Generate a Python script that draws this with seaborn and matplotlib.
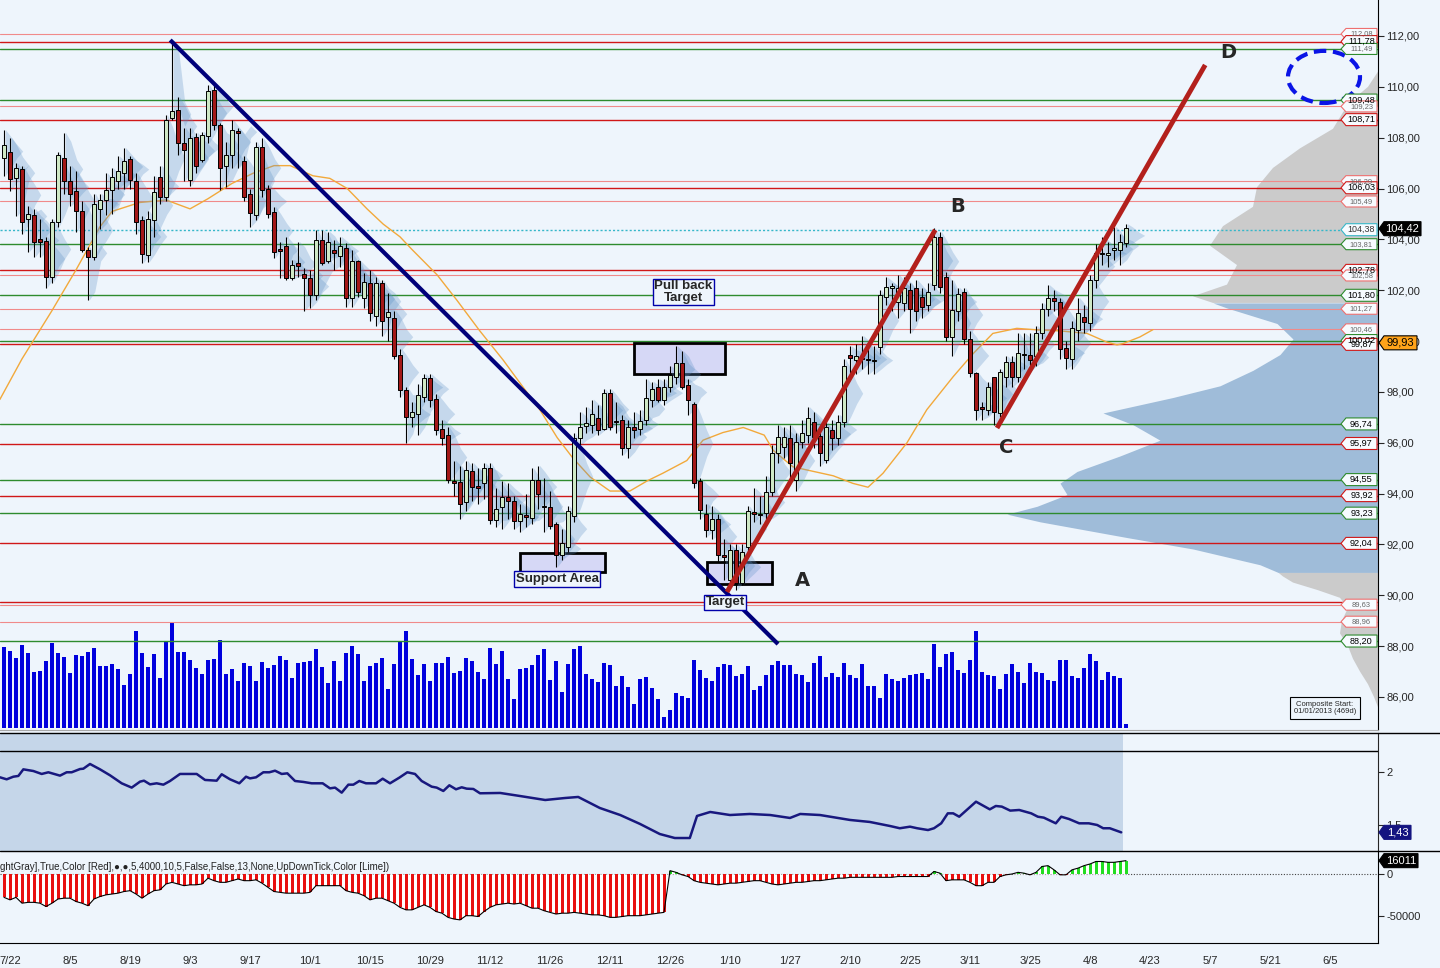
import numpy as np
import matplotlib
matplotlib.use("Agg")
import matplotlib.pyplot as plt
from matplotlib.patches import Rectangle, Ellipse, Polygon
from matplotlib.collections import PolyCollection
from matplotlib.lines import Line2D
from matplotlib.transforms import blended_transform_factory
import seaborn as sns

sns.set_style("white")
plt.rcParams["font.family"] = ["Liberation Sans", "DejaVu Sans"]

# ---- daily candles (bar index 0..187) ----
opens = [107.2, 107.45, 106.4, 106.76, 104.8, 104.96, 104.0, 103.95, 102.5, 104.7,
         107.2, 106.3, 105.9, 105.1, 103.6, 103.3, 105.2, 105.55, 105.95, 106.3,
         106.6, 107.15, 106.3, 104.76, 103.4, 104.77, 106.47, 105.68, 108.77, 109.1,
         107.78, 106.34, 108.04, 107.13, 108.07, 109.88, 108.5, 106.89, 107.33, 108.25,
         107.08, 105.8, 104.96, 107.65, 105.97, 105.09, 103.64, 103.72, 102.47, 103.06,
         102.64, 102.47, 101.81, 103.98, 103.13, 103.6, 103.35, 103.65, 101.68, 103.13,
         101.68, 102.3, 101.0, 102.3, 100.96, 100.9, 99.45, 98.07, 97.0, 97.15,
         97.81, 98.53, 97.74, 96.56, 96.3, 94.5, 94.47, 93.68, 94.9, 94.3,
         94.4, 95.0, 92.96, 93.46, 93.85, 93.72, 92.93, 93.15, 93.02, 94.53,
         93.5, 93.48, 92.8, 91.6, 91.9, 93.1, 96.2, 96.66, 96.7, 96.96,
         96.56, 97.97, 96.85, 96.9, 95.8, 96.6, 96.56, 96.9, 97.7, 98.2,
         97.7, 98.2, 98.6, 99.15, 98.27, 97.52, 94.5, 93.2, 92.56, 93.0,
         91.6, 90.6, 91.8, 90.5, 91.9, 93.29, 93.2, 93.22, 94.07, 95.58,
         95.85, 96.17, 94.53, 96.04, 96.3, 96.83, 96.26, 95.32, 96.5, 96.17,
         96.83, 99.45, 99.25, 99.35, 99.3, 99.2, 99.78, 101.74, 102.1, 101.55,
         101.48, 102.0, 102.07, 101.74, 101.41, 102.2, 104.1, 102.5, 100.17, 101.2,
         101.94, 100.1, 98.73, 97.4, 97.29, 98.6, 97.16, 98.6, 99.19, 98.6,
         99.5, 99.45, 99.4, 100.3, 101.28, 101.7, 101.55, 99.72, 99.3, 100.43,
         100.96, 100.7, 102.4, 103.45, 103.4, 103.58, 103.6, 103.84]
closes = [107.7, 106.36, 106.8, 104.7, 105.0, 103.9, 103.9, 102.5, 104.7, 107.3,
          106.3, 105.8, 105.1, 103.6, 103.3, 105.4, 105.55, 105.95, 106.47, 106.67,
          107.1, 106.33, 104.7, 103.43, 104.8, 105.88, 105.68, 108.7, 109.05, 107.78,
          107.5, 107.98, 106.9, 108.1, 109.85, 108.5, 106.8, 107.3, 108.3, 108.18,
          105.68, 105.05, 107.65, 105.94, 105.0, 103.52, 103.53, 102.47, 103.0, 102.97,
          102.47, 101.81, 103.98, 103.06, 103.91, 103.48, 103.72, 101.68, 103.13, 101.94,
          102.34, 101.1, 102.3, 100.8, 101.15, 99.4, 98.07, 97.02, 97.2, 97.88,
          98.53, 97.68, 96.5, 96.17, 94.53, 94.4, 93.6, 94.93, 94.24, 94.2,
          95.0, 92.96, 93.38, 93.88, 93.72, 92.93, 93.19, 93.09, 94.53, 93.98,
          93.46, 92.72, 91.6, 92.04, 93.3, 96.2, 96.63, 96.76, 97.13, 96.5,
          97.97, 96.63, 96.8, 95.78, 96.63, 96.5, 96.87, 97.75, 98.1, 97.7,
          98.2, 98.66, 99.15, 98.2, 97.68, 94.4, 93.35, 92.56, 93.0, 91.6,
          91.5, 91.8, 90.5, 91.7, 93.3, 93.2, 93.15, 94.07, 95.6, 96.24,
          96.24, 95.19, 96.04, 96.37, 96.96, 96.24, 95.58, 96.63, 96.17, 96.83,
          99.02, 99.32, 99.4, 99.3, 99.25, 99.26, 101.81, 102.14, 102.14, 102.07,
          102.07, 101.28, 101.2, 101.35, 101.94, 104.1, 102.14, 100.17, 101.22, 101.87,
          100.1, 98.73, 97.29, 97.32, 98.2, 97.2, 98.8, 99.19, 98.6, 99.54,
          99.45, 99.25, 100.3, 101.28, 101.68, 101.59, 99.7, 99.32, 100.5, 101.09,
          100.76, 102.4, 103.45, 103.42, 103.43, 103.65, 103.88, 104.43]
highs = [108.3, 108.0, 107.0, 106.9, 105.3, 105.2, 104.8, 104.1, 104.8, 107.45,
         108.2, 106.9, 106.7, 105.5, 103.7, 105.8, 105.8, 106.6, 106.8, 107.26,
         107.6, 107.26, 106.6, 104.9, 105.1, 106.5, 106.9, 108.9, 111.85, 109.6,
         108.4, 108.4, 108.2, 108.24, 110.07, 110.07, 108.57, 107.84, 108.7, 108.37,
         107.26, 106.0, 107.84, 107.98, 106.14, 105.29, 103.9, 104.1, 103.2, 103.9,
         102.86, 102.8, 104.37, 104.37, 104.3, 103.98, 104.1, 103.85, 103.6, 103.2,
         102.67, 102.8, 102.5, 102.4, 101.9, 101.2, 99.7, 98.2, 97.6, 98.3,
         98.7, 98.7, 97.9, 96.9, 96.6, 95.3, 95.1, 95.3, 95.2, 95.0,
         95.2, 95.2, 94.2, 94.5, 94.4, 93.9, 93.6, 94.0, 95.0, 95.1,
         94.6, 94.1, 92.9, 92.6, 93.5, 96.4, 97.2, 97.4, 97.7, 97.5,
         98.1, 98.1, 97.6, 97.1, 96.9, 97.2, 97.3, 98.5, 98.4, 98.5,
         98.5, 99.0, 99.8, 99.6, 98.5, 97.6, 94.6, 93.6, 93.5, 93.2,
         92.2, 92.0, 92.0, 92.0, 93.5, 94.2, 93.9, 94.7, 95.9, 96.7,
         96.6, 96.7, 96.4, 96.9, 97.4, 97.2, 96.6, 96.8, 96.9, 97.1,
         99.3, 99.8, 99.9, 100.2, 99.9, 99.8, 102.0, 102.5, 102.3, 102.6,
         102.5, 102.3, 102.4, 102.1, 102.3, 104.43, 104.3, 102.7, 102.4, 102.1,
         102.1, 100.4, 98.8, 97.6, 98.4, 98.6, 98.9, 99.4, 99.4, 100.3,
         100.3, 100.3, 100.6, 101.5, 102.2, 102.0, 101.7, 100.0, 100.8, 101.7,
         101.4, 102.6, 103.8, 104.1, 103.9, 104.5, 104.2, 104.6]
lows = [106.5, 105.9, 104.9, 104.2, 103.5, 103.3, 103.3, 102.1, 102.3, 104.5,
        105.8, 105.3, 104.3, 103.5, 101.6, 103.2, 104.4, 104.96, 105.0, 106.0,
        106.0, 106.0, 104.2, 103.06, 103.1, 104.1, 105.4, 105.5, 108.7, 107.3,
        106.3, 106.1, 106.6, 107.06, 107.78, 108.3, 105.94, 106.07, 106.8, 106.8,
        105.49, 104.5, 104.76, 105.68, 104.83, 103.26, 102.47, 102.4, 102.4, 102.5,
        101.2, 101.3, 101.6, 102.99, 103.06, 102.8, 102.93, 101.35, 101.35, 101.75,
        101.3, 100.8, 100.6, 100.2, 100.0, 99.3, 97.8, 96.0, 96.6, 96.3,
        97.6, 97.4, 96.3, 95.9, 94.4, 93.9, 93.0, 93.3, 93.7, 93.6,
        93.8, 92.8, 92.7, 92.6, 93.0, 92.6, 92.5, 92.7, 92.8, 93.4,
        92.5, 92.6, 91.1, 91.4, 91.7, 92.9, 95.9, 96.4, 96.4, 96.3,
        96.5, 96.5, 96.4, 95.5, 95.4, 96.2, 96.3, 96.7, 97.4, 97.6,
        97.5, 98.0, 98.3, 98.1, 97.1, 94.2, 93.0, 92.3, 92.2, 91.3,
        90.6, 90.3, 90.2, 90.4, 91.6, 92.9, 92.8, 93.0, 93.9, 95.2,
        95.4, 94.6, 94.1, 95.8, 96.0, 95.8, 95.1, 95.2, 95.7, 95.9,
        96.6, 98.7, 98.7, 98.9, 98.7, 98.7, 99.5, 101.4, 101.2, 100.9,
        101.2, 100.3, 100.8, 100.9, 101.2, 102.0, 101.9, 100.0, 99.4, 100.8,
        99.9, 98.6, 96.9, 96.9, 97.1, 96.7, 97.0, 98.2, 98.2, 98.4,
        98.9, 98.8, 99.0, 100.1, 101.0, 101.2, 99.3, 98.9, 98.9, 100.0,
        100.3, 100.4, 102.1, 103.0, 102.9, 103.2, 103.0, 103.7]
volume = [81, 77, 70, 83, 75, 56, 57, 67, 85, 75,
          71, 55, 73, 72, 76, 80, 62, 62, 64, 59,
          43, 54, 97, 75, 61, 74, 50, 86, 106, 76,
          76, 68, 60, 54, 68, 69, 88, 54, 59, 47,
          65, 62, 47, 66, 60, 63, 72, 68, 50, 65,
          66, 67, 79, 61, 45, 67, 47, 75, 82, 74,
          47, 62, 65, 70, 39, 64, 86, 97, 69, 53,
          64, 47, 65, 65, 71, 55, 57, 70, 67, 56,
          49, 80, 64, 77, 49, 29, 59, 60, 63, 73,
          79, 48, 67, 36, 64, 79, 82, 54, 49, 46,
          65, 63, 42, 52, 41, 24, 49, 51, 40, 29,
          11, 18, 35, 32, 30, 68, 58, 50, 47, 61,
          64, 63, 52, 54, 62, 38, 42, 53, 63, 67,
          63, 63, 54, 53, 46, 65, 72, 51, 55, 51,
          65, 53, 50, 64, 42, 42, 30, 54, 49, 47,
          50, 53, 54, 55, 49, 84, 61, 74, 76, 58,
          55, 68, 97, 56, 53, 52, 39, 54, 64, 56,
          45, 65, 56, 55, 48, 47, 68, 68, 52, 50,
          60, 74, 67, 48, 56, 52, 50, 4]

# moving average (orange) read as points
ma_k = [-0.7, 3, 8, 12, 16, 18, 22.6, 27, 31, 34, 38, 41.5, 45, 47.7, 51.5, 54.3, 57.2,
        60.5, 63.2, 66, 68, 72.2, 75.5, 79.3, 83.2, 86, 89.3, 92.2, 94.8, 97.7, 101,
        104.3, 107.2, 109.8, 113.8, 116.5, 119.8, 123.2, 126.7, 128.2, 131.5, 138.2,
        141.5, 144, 146.5, 150.5, 153.8, 158.2, 161.5, 164.8, 168.8, 172.7, 176,
        180.5, 183.8, 185.5, 186.5, 189.3, 191.5]
ma_val = [97.7, 99.3, 101.2, 102.8, 104.5, 105.1, 105.45, 105.55, 105.2, 105.6, 106.2,
          106.6, 106.9, 106.9, 106.5, 106.4, 106.0, 105.2, 104.6, 104.1, 103.6, 102.6,
          101.6, 100.4, 99.25, 98.35, 97.3, 96.2, 95.4, 94.65, 94.1, 94.1, 94.5, 94.8,
          95.3, 96.1, 96.4, 96.6, 96.3, 95.7, 95.05, 94.7, 94.4, 94.25, 94.8, 96.0,
          97.3, 98.6, 99.5, 100.3, 100.5, 100.43, 100.4, 100.3, 99.96, 99.85, 99.9,
          100.16, 100.45]

# support / resistance levels on the right
level_price = [112.08, 111.78, 111.49, 109.48, 109.23, 108.71, 106.29, 106.03, 105.49,
               103.81, 102.78, 102.58, 101.80, 101.27, 100.46, 100.02, 99.87, 96.74,
               95.97, 94.55, 93.92, 93.23, 92.04, 89.73, 89.63, 88.96, 88.20]
level_kind = ["rl", "r", "g", "g", "rl", "r", "rl", "r", "rl",
              "g", "r", "rl", "g", "rl", "rl", "g", "r", "g",
              "r", "g", "r", "g", "r", "r", "rl", "rl", "g"]
level_bold = [0, 1, 0, 1, 0, 1, 0, 1, 0,
              0, 1, 0, 1, 0, 0, 1, 1, 1,
              1, 1, 1, 1, 1, 1, 0, 0, 1]
level_tagged = [1, 1, 1, 1, 1, 1, 1, 1, 1,
                1, 1, 1, 1, 1, 1, 1, 1, 1,
                1, 1, 1, 1, 1, 0, 1, 1, 1]
last_price = 104.42
poc_price = 99.93
cur_level = 104.38

# composite volume profile
prof_price = [110.6, 110.0, 109.5, 109.0, 108.35, 107.58, 106.81, 106.05, 105.28, 104.52,
              103.75, 102.99, 102.22, 101.76, 101.5, 101.3, 100.69, 100.08, 99.47, 98.85,
              98.24, 97.78, 97.17, 96.71, 96.1, 95.48, 94.87, 94.41, 93.96, 93.5,
              93.19, 92.89, 92.27, 91.82, 91.2, 90.9, 90.74, 90.5, 90.2, 89.9,
              89.5, 89.0, 88.5, 88.0, 87.5, 87.0, 86.5, 86.0, 85.6]
prof_width = [0, 10, 25, 35, 45, 78, 105, 121, 125, 155,
              168, 141, 151, 185, 165, 151, 101, 85, 98, 125,
              158, 205, 275, 245, 218, 258, 301, 318, 311, 341,
              371, 338, 251, 185, 118, 100, 95, 85, 60, 38,
              30, 36, 38, 30, 25, 18, 10, 4, 0]
value_area = (90.9, 101.5)

# middle indicator
ind_k = [-0.67, 0.44, 1.56, 2.39, 3.22, 4.89, 6.28, 7.39, 9.33, 10.44, 11.28, 12.67, 13.22,
         14.33, 16.0, 17.67, 19.61, 21.28, 22.67, 23.33, 24.33, 25.44, 26.56, 27.67, 29.33,
         32.11, 33.5, 35.44, 36.28, 37.67, 39.22, 40.33, 41.0, 42.0, 43.22, 44.22, 45.17,
         46.28, 47.22, 48.5, 49.89, 51.28, 53.11, 54.33, 55.17, 56.28, 57.39, 58.22, 59.22,
         60.33, 62.0, 63.11, 64.33, 65.89, 67.22, 68.5, 69.61, 71.28, 72.11, 73.22, 74.22,
         75.33, 76.28, 77.11, 78.22, 79.33, 82.7, 86, 90.2, 93.5, 95.7, 99.3, 102.7, 106,
         109.3, 111.8, 114.3, 115.5, 117.7, 121, 124.3, 127.7, 131, 132.7, 136, 141,
         144.3, 147.7, 149.3, 151, 152.2, 154, 155, 156.2, 157.3, 158.2, 159.2, 162,
         164.3, 165.3, 166.3, 167.7, 169.2, 171.2, 172.3, 173.3, 175.3, 176.2, 177.5,
         179.2, 180.8, 182.2, 183.2, 184.3, 186.2]
ind_val = [1.954, 1.935, 1.960, 1.967, 2.030, 2.014, 1.986, 2.002, 1.970, 2.002, 2.002,
           2.033, 2.036, 2.081, 2.030, 1.973, 1.897, 1.856, 1.913, 1.922, 1.887, 1.897,
           1.884, 1.919, 1.986, 1.986, 1.929, 1.922, 1.983, 1.935, 1.897, 1.960, 1.944,
           1.954, 2.002, 2.002, 2.017, 1.986, 1.992, 1.919, 1.910, 1.897, 1.897, 1.849,
           1.856, 1.808, 1.884, 1.884, 1.919, 1.897, 1.897, 1.941, 1.897, 1.951, 2.002,
           1.986, 1.919, 1.865, 1.856, 1.824, 1.878, 1.840, 1.859, 1.846, 1.843, 1.802,
           1.805, 1.776, 1.738, 1.757, 1.767, 1.662, 1.595, 1.51, 1.414, 1.376, 1.376,
           1.586, 1.624, 1.595, 1.605, 1.595, 1.567, 1.605, 1.595, 1.548, 1.529, 1.49,
           1.469, 1.484, 1.469, 1.452, 1.469, 1.516, 1.611, 1.611, 1.579, 1.722, 1.649,
           1.681, 1.675, 1.637, 1.643, 1.611, 1.579, 1.57, 1.516, 1.579, 1.557, 1.516,
           1.516, 1.5, 1.469, 1.469, 1.43]
ind_last = 1.43

# lower oscillator (thousands)
flow = [-28, -31, -28, -35, -34, -34, -35, -39, -35, -30,
        -29, -29, -33, -35, -38, -30, -27, -25, -24, -23,
        -21, -20, -24, -29, -24, -20, -19, -12, -10, -12,
        -14, -13, -13, -12, -5, -8, -10, -10, -8, -6,
        -8, -8, -7, -11, -16, -21, -22, -23, -23, -23,
        -23, -22, -14, -14, -14, -14, -14, -20, -22, -23,
        -26, -31, -29, -29, -32, -35, -40, -43, -43, -40,
        -37, -40, -45, -47, -52, -54, -55, -50, -50, -51,
        -45, -40, -37, -36, -35, -36, -35, -38, -41, -41,
        -44, -46, -48, -47, -47, -46, -47, -48, -49, -49,
        -50, -52, -52, -51, -50, -50, -50, -49, -48, -47,
        -46, 4, 2, -1, -3, -8, -10, -11, -12, -13,
        -12, -11, -11, -10, -9, -8, -8, -10, -12, -13,
        -12, -11, -10, -10, -9, -8, -8, -7, -6, -5,
        -5, -4, -4, -4, -4, -4, -4, -4, -4, -3,
        -3, -3, -3, -3, -3, 3, 1, -8, -7, -7,
        -7, -10, -14, -14, -10, -10, -3, -1, 0, 2,
        1, -1, 2, 9, 10, 5, -1, -1, 5, 7,
        10, 12, 15, 15, 14, 14, 15, 16]
flow_last = 16011

date_k = [1, 11, 21, 31, 41, 51, 61, 71, 81, 91, 101, 111, 121, 131, 141, 151, 161,
          171, 181, 191, 201, 211, 221]
date_labels = ["7/22", "8/5", "8/19", "9/3", "9/17", "10/1", "10/15", "10/29", "11/12",
               "11/26", "12/11", "12/26", "1/10", "1/27", "2/10", "2/25", "3/11", "3/25",
               "4/8", "4/23", "5/7", "5/21", "6/5"]

# drawn annotations (bar index, price)
down_trend = ([27.7, 129.0], [111.84, 88.08])
ab_line = ([120.5, 155.2], [90.13, 104.37])
cd_line = ([165.5, 200.2], [96.58, 110.86])
wave_labels = [("A", 133, 90.6), ("B", 159, 105.3), ("C", 167, 95.8), ("D", 204, 111.37)]
boxes = [(86.0, 100.2, 90.91, 91.66), (105.0, 120.2, 98.71, 99.93), (117.2, 128.0, 90.44, 91.31)]
box_texts = [("Support Area", 92.2, 90.64), ("Pull back\nTarget", 113.2, 101.93), ("Target", 120.2, 89.73)]
target_ellipse = (220.0, 110.39, 12.0, 2.05)

# ---------------------------------------------------------------
W, H = 1440, 968
BG = "#eef5fc"
AXW = 1378
XL = (-0.67, 229)

fig = plt.figure(figsize=(W / 100, H / 100), dpi=100, facecolor=BG)


def rect(x0, y0, x1, y1):
    return [x0 / W, 1 - y1 / H, (x1 - x0) / W, (y1 - y0) / H]


def tag(ax, y, txt, x0, x1, fc, ec, tc, fs, hpx=12, lw=0.8, z=9, weight="normal"):
    y0, y1 = ax.get_ylim()
    dy = (y1 - y0) / ax.bbox.height * hpx / 2
    tr = blended_transform_factory(ax.transAxes, ax.transData)
    pts = [(x0 / AXW, y), ((x0 + 5) / AXW, y + dy), (x1 / AXW, y + dy),
           (x1 / AXW, y - dy), ((x0 + 5) / AXW, y - dy)]
    ax.add_patch(Polygon(pts, closed=True, transform=tr, fc=fc, ec=ec, lw=lw,
                         clip_on=False, zorder=z))
    ax.text((x0 + 5 + x1) / 2 / AXW, y, txt, transform=tr, ha="center", va="center",
            fontsize=fs, color=tc, clip_on=False, zorder=z + 0.1, fontweight=weight)


PY = (84.70, 113.416)

# composite profile
ax_prof = fig.add_axes(rect(0, 0, AXW, 730))
ax_prof.set_xlim(AXW, 0)
ax_prof.set_ylim(PY)
ax_prof.axis("off")
pp = np.array(prof_price)
pw = np.array(prof_width)
in_va = (pp >= value_area[0]) & (pp <= value_area[1])
out_va = (pp <= value_area[0]) | (pp >= value_area[1])
ax_prof.fill_betweenx(pp, 0, pw, where=out_va, color="#cbcbcb", lw=0)
ax_prof.fill_betweenx(pp, 0, pw, where=in_va, color="#9fbcd9", lw=0)

# volume
ax_v = fig.add_axes(rect(0, 0, AXW, 730))
ax_v.set_xlim(XL)
ax_v.set_ylim(-2, 728)
ax_v.axis("off")
kk = np.arange(len(volume))
ax_v.bar(kk, volume, width=0.67, color="#0000dd", lw=0)

# price
ax_p = fig.add_axes(rect(0, 0, AXW, 730))
ax_p.set_facecolor("none")
ax_p.set_xlim(XL)
ax_p.set_ylim(PY)
for s in ["left", "top"]:
    ax_p.spines[s].set_visible(False)
ax_p.spines["bottom"].set_color("#a8a8a8")
ax_p.spines["right"].set_color("black")
ax_p.set_xticks([])
ax_p.yaxis.tick_right()
yt = list(range(86, 113, 2))
ax_p.set_yticks(yt)
ax_p.set_yticklabels([f"{v:.2f}".replace(".", ",") for v in yt], fontsize=8)
ax_p.tick_params(axis="y", length=4, pad=2, width=0.8)

line_col = {"r": "#d01818", "rl": "#f08a8a", "g": "#2e8b2e"}
for p, kind in zip(level_price, level_kind):
    ax_p.axhline(p, color=line_col[kind], lw=1.0 if kind != "rl" else 0.8, zorder=1)
for p, kind, b, t in zip(level_price, level_kind, level_bold, level_tagged):
    if not t:
        continue
    ec = {"r": "#d01818", "rl": "#ee7070", "g": "#2e8b2e"}[kind]
    tag(ax_p, p, f"{p:.2f}".replace(".", ","), 1341, 1377, "#f7fbff", ec,
        "black" if b else "#666666", 6.6 if b else 5.4, hpx=12 if b else 11)
ax_p.axhline(cur_level, color="#36b7c9", lw=1, ls=(0, (1.5, 1.5)), zorder=1)
tag(ax_p, cur_level, f"{cur_level:.2f}".replace(".", ","), 1341, 1377, "#f7fbff",
    "#36b7c9", "#333333", 6.4)

# moving average
sns.lineplot(x=ma_k, y=ma_val, ax=ax_p, color="#f2a93b", lw=1.0, estimator=None,
             sort=False, zorder=3)

o = np.array(opens)
c = np.array(closes)
hi = np.array(highs)
lo = np.array(lows)
kc = np.arange(len(o))

# per-bar volume profiles
verts = []
for i in range(len(kc)):
    mid = (o[i] + c[i]) / 2
    rng = hi[i] - lo[i]
    verts.append([(kc[i] + 0.3, lo[i]), (kc[i] + 1.2, lo[i] + 0.15 * rng),
                  (kc[i] + 2.2, mid - 0.15 * rng), (kc[i] + 3.2, mid),
                  (kc[i] + 2.2, mid + 0.15 * rng), (kc[i] + 1.2, hi[i] - 0.15 * rng),
                  (kc[i] + 0.3, hi[i])])
ax_p.add_collection(PolyCollection(verts, facecolors="#5b8fc4", alpha=0.28,
                                   edgecolors="none", zorder=3))

# zones
for k0, k1, p0, p1 in boxes:
    ax_p.add_patch(Rectangle((k0, p0), k1 - k0, p1 - p0, fc=(0.82, 0.82, 0.96, 0.8),
                             ec="black", lw=2, zorder=2))

ax_p.vlines(kc, lo, hi, color="black", lw=0.8, zorder=4)
up = c >= o
ax_p.bar(kc, np.maximum(np.abs(c - o), 0.05), bottom=np.minimum(o, c), width=0.6,
         color=np.where(up, "#cfe8c6", "#a31818"), edgecolor="black", lw=0.7, zorder=5)

ax_p.plot(*down_trend, color="#00007a", lw=3, solid_capstyle="butt", zorder=7)
ax_p.plot(*ab_line, color="#b3201c", lw=3.5, solid_capstyle="butt", zorder=7)
ax_p.plot(*cd_line, color="#b3201c", lw=3.5, solid_capstyle="butt", zorder=7)
ex, ey, ew, eh = target_ellipse
ax_p.add_patch(Ellipse((ex, ey), ew, eh, fill=False, ec="#0a14e6", lw=3,
                       ls=(0, (3, 1.6)), zorder=7))
for t, kx, py in wave_labels:
    ax_p.text(kx, py, t, fontsize=14, fontweight="heavy", family="DejaVu Sans",
              ha="center", va="center", zorder=8)
for t, kx, py in box_texts:
    ax_p.text(kx, py, t, fontsize=9.5, fontweight="bold", ha="center", va="center",
              linespacing=0.95, zorder=8,
              bbox=dict(boxstyle="square,pad=0.12", fc=BG, ec="#0000aa", lw=1))

tr_p = blended_transform_factory(ax_p.transAxes, ax_p.transData)
ax_p.text(1325 / AXW, 85.56, "Composite Start:\n01/01/2013 (469d)", transform=tr_p,
          fontsize=5.5, ha="center", va="center", linespacing=1.1, zorder=8,
          bbox=dict(boxstyle="square,pad=0.5", fc=BG, ec="black", lw=0.8))

tag(ax_p, last_price, f"{last_price:.2f}".replace(".", ","), 1379, 1421, "black",
    "black", "white", 8, hpx=14)
tag(ax_p, poc_price, f"{poc_price:.2f}".replace(".", ","), 1379, 1417, "#ffa31a",
    "black", "black", 8, hpx=14)

# middle indicator panel
ax_m = fig.add_axes(rect(0, 733, AXW, 851))
ax_m.set_facecolor("none")
ax_m.set_xlim(XL)
ax_m.set_ylim(1.2524, 2.376)
ax_m.axvspan(XL[0], 186.5, color="#c5d6e9", lw=0, zorder=0)
ax_m.axhline(2.205, color="black", lw=1, zorder=1)
sns.lineplot(x=ind_k, y=ind_val, ax=ax_m, color="#18187e", lw=1.8, estimator=None,
             sort=False, zorder=3)
for s in ["left", "top", "bottom"]:
    ax_m.spines[s].set_visible(False)
ax_m.set_xticks([])
ax_m.yaxis.tick_right()
ax_m.set_yticks([2, 1.5])
ax_m.set_yticklabels(["2", "1.5"], fontsize=8)
ax_m.tick_params(axis="y", length=4, pad=2, width=0.8)
ax_m.set_xlabel("")
ax_m.set_ylabel("")
tag(ax_m, ind_last, f"{ind_last:.2f}".replace(".", ","), 1379, 1411, "#141480",
    "#141480", "white", 8, hpx=14)

# lower oscillator
ax_b = fig.add_axes(rect(0, 852, AXW, 943))
ax_b.set_facecolor("none")
ax_b.set_xlim(XL)
ax_b.set_ylim(-82734, 26379)
fv = np.array(flow) * 1000.0
kf = np.arange(len(fv))
ax_b.axhline(0, color="#444444", lw=0.8, ls=(0, (1, 1.5)), zorder=1)
ax_b.fill_between(kf, 0, fv, color="white", lw=0, zorder=2)
ax_b.bar(kf, fv, width=0.5, color=np.where(fv >= 0, "#22dd22", "#e81010"), lw=0, zorder=3)
sns.lineplot(x=kf, y=fv, ax=ax_b, color="black", lw=0.8, estimator=None, sort=False,
             zorder=4)
for s in ["left", "top"]:
    ax_b.spines[s].set_visible(False)
ax_b.spines["right"].set_color("black")
ax_b.spines["bottom"].set_color("black")
ax_b.yaxis.tick_right()
ax_b.set_yticks([0, -50000])
ax_b.set_yticklabels(["0", "-50000"], fontsize=8)
ax_b.tick_params(axis="y", length=4, pad=2, width=0.8)
ax_b.set_xticks(date_k)
ax_b.set_xticklabels(date_labels, fontsize=8)
ax_b.set_xticks(np.arange(0, 230), minor=True)
ax_b.tick_params(axis="x", which="major", length=7, width=0.8, pad=2, direction="out")
ax_b.tick_params(axis="x", which="minor", length=6, width=0.6, direction="out")
ax_b.set_xlabel("")
ax_b.set_ylabel("")
ax_b.text(0.0, 0.835, "ghtGray],True,Color [Red],\u25cf,\u25cf,5,4000,10,5,False,False,13,"
          "None,UpDownTick,Color [Lime])", transform=ax_b.transAxes, fontsize=7,
          ha="left", va="center", color="#222222", zorder=6)
tag(ax_b, flow_last, str(flow_last), 1379, 1418, "black", "black", "white", 8, hpx=14)

for ypx in (733, 851):
    fig.add_artist(Line2D([0, 1], [1 - ypx / H] * 2, color="black", lw=1,
                          transform=fig.transFigure))

fig.savefig("out.png", dpi=100, facecolor=BG)
